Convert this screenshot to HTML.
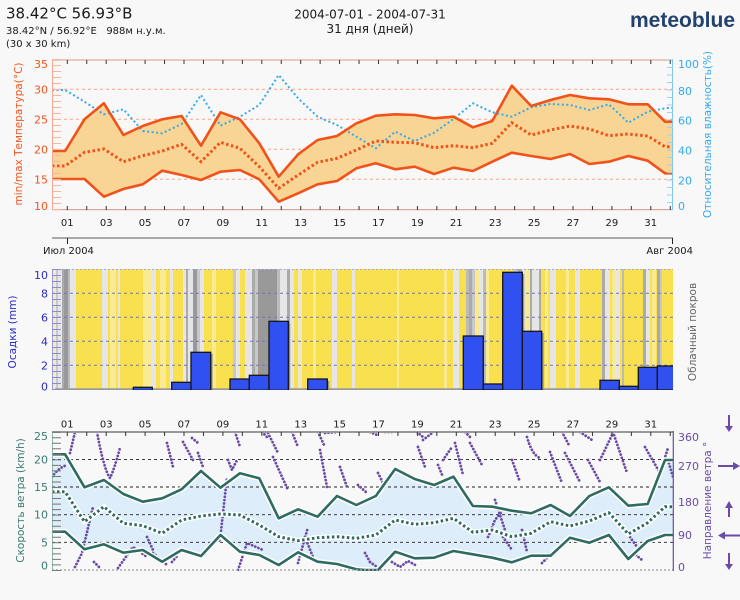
<!DOCTYPE html>
<html><head><meta charset="utf-8"><style>
html,body{margin:0;padding:0;background:#f8f8f8;}
svg{display:block;font-family:"DejaVu Sans","Liberation Sans",sans-serif;}
</style></head><body>
<svg width="740" height="600" viewBox="0 0 740 600" xmlns="http://www.w3.org/2000/svg">
<defs>
<clipPath id="cTop"><rect x="52" y="59" width="621" height="151"/></clipPath>
<clipPath id="cMid"><rect x="52" y="269" width="621" height="121"/></clipPath>
<clipPath id="cBot"><rect x="52" y="431" width="621" height="140"/></clipPath>
<clipPath id="cHum"><rect x="690" y="52" width="40" height="180"/></clipPath>
</defs>
<rect width="740" height="600" fill="#f8f8f8"/>

<!-- HEADER -->
<text x="6" y="18.5" font-size="15" fill="#1a1a1a">38.42°C 56.93°B</text>
<text x="6" y="34" font-size="10" fill="#1a1a1a">38.42°N / 56.92°E&#160;&#160;&#160;988м н.у.м.</text>
<text x="6" y="47" font-size="10" fill="#1a1a1a">(30 x 30 km)</text>
<text x="370" y="18.5" font-size="12" fill="#1a1a1a" text-anchor="middle">2004-07-01 - 2004-07-31</text>
<text x="370" y="33" font-size="12" fill="#1a1a1a" text-anchor="middle">31 дня (дней)</text>
<text x="630" y="27" font-size="21" font-weight="bold" fill="#24426f" font-family="Liberation Sans, sans-serif">meteoblue</text>

<!-- TOP CHART -->
<g clip-path="url(#cTop)">
<g stroke="#f5a588" stroke-width="1" stroke-dasharray="3,3">
<line x1="52" y1="89.3" x2="673" y2="89.3"/>
<line x1="52" y1="119.3" x2="673" y2="119.3"/>
<line x1="52" y1="149.3" x2="673" y2="149.3"/>
<line x1="52" y1="179.3" x2="673" y2="179.3"/>
</g>
<polygon fill="#f8d595" points="52,151 65.1,151 84.5,119.3 103.9,103.3 123.4,135 142.8,126 162.2,119.3 181.6,116 201,145.7 220.5,112.3 239.9,119.3 259.3,143.3 278.7,176.7 298.1,154.3 317.6,140 337,136 356.4,123.3 375.8,115.7 395.2,114.3 414.7,115 434.1,118.3 453.5,116.7 472.9,127.3 492.3,121 511.8,85.7 531.2,106 550.6,100 570,95 589.4,98.3 608.9,99.3 628.3,104.3 647.7,104.3 665,121.7 673,121.7 673,173.3 665,173.3 647.7,160.7 628.3,156 608.9,161.7 589.4,164 570,154 550.6,159 531.2,156 511.8,152.7 492.3,161.7 472.9,171 453.5,167.7 434.1,174 414.7,166.7 395.2,169.3 375.8,163.3 356.4,168.3 337,181 317.6,184.3 298.1,193.3 278.7,201.7 259.3,179.3 239.9,170 220.5,171.7 201,180 181.6,175 162.2,170.7 142.8,184.3 123.4,189 103.9,196.7 84.5,179 65.1,179 52,179"/>
<polyline fill="none" stroke="#33a9ee" stroke-width="2" stroke-dasharray="2,2.5" points="52,90 65.1,90 84.5,101.7 103.9,114.3 123.4,109.3 142.8,131 162.2,133.3 181.6,124 201,95 220.5,125.7 239.9,116.7 259.3,105 278.7,75 298.1,98.3 317.6,116.7 337,125 356.4,136.7 375.8,148.3 395.2,131.7 414.7,141 434.1,132.7 453.5,119 472.9,103.3 492.3,112.3 511.8,116.7 531.2,107.3 550.6,104 570,105 589.4,110 608.9,104.3 628.3,122.7 647.7,111.7 665,108.3 673,107.7"/>
<polyline fill="none" stroke="#f0521a" stroke-width="2.6" stroke-linejoin="round" points="52,151 65.1,151 84.5,119.3 103.9,103.3 123.4,135 142.8,126 162.2,119.3 181.6,116 201,145.7 220.5,112.3 239.9,119.3 259.3,143.3 278.7,176.7 298.1,154.3 317.6,140 337,136 356.4,123.3 375.8,115.7 395.2,114.3 414.7,115 434.1,118.3 453.5,116.7 472.9,127.3 492.3,121 511.8,85.7 531.2,106 550.6,100 570,95 589.4,98.3 608.9,99.3 628.3,104.3 647.7,104.3 665,121.7 673,121.7"/>
<polyline fill="none" stroke="#f0521a" stroke-width="2.6" stroke-linejoin="round" points="52,179 65.1,179 84.5,179 103.9,196.7 123.4,189 142.8,184.3 162.2,170.7 181.6,175 201,180 220.5,171.7 239.9,170 259.3,179.3 278.7,201.7 298.1,193.3 317.6,184.3 337,181 356.4,168.3 375.8,163.3 395.2,169.3 414.7,166.7 434.1,174 453.5,167.7 472.9,171 492.3,161.7 511.8,152.7 531.2,156 550.6,159 570,154 589.4,164 608.9,161.7 628.3,156 647.7,160.7 665,173.3 673,173.3"/>
<polyline fill="none" stroke="#f0521a" stroke-width="3" stroke-dasharray="2.5,2.5" points="52,166 65.1,166 84.5,152.3 103.9,149 123.4,161.7 142.8,155.7 162.2,151 181.6,144.3 201,161.7 220.5,142.3 239.9,148.3 259.3,166.7 278.7,188.3 298.1,175 317.6,162.3 337,158.3 356.4,150 375.8,141 395.2,142.3 414.7,142.7 434.1,147.7 453.5,145.7 472.9,147.7 492.3,143.3 511.8,122.7 531.2,135 550.6,130 570,126 589.4,129 608.9,135.7 628.3,134 647.7,136 665,146.7 673,146.7"/>
</g>
<line x1="52" y1="60" x2="673" y2="60" stroke="#e3aa98" stroke-width="1.2"/>
<line x1="52" y1="209.6" x2="673" y2="209.6" stroke="#d9a898" stroke-width="1.2"/>
<line x1="52.5" y1="59" x2="52.5" y2="210" stroke="#f5a590" stroke-width="1"/>
<line x1="56.5" y1="59" x2="56.5" y2="210" stroke="#f8b6a0" stroke-width="9" stroke-dasharray="1,5"/>
<line x1="672.5" y1="59" x2="672.5" y2="210" stroke="#7cc6f0" stroke-width="1"/>
<line x1="670" y1="59.5" x2="670" y2="210" stroke="#9ad2f2" stroke-width="6" stroke-dasharray="1,6.5"/>
<line x1="66.8" y1="62" x2="673" y2="62" stroke="#333" stroke-width="4" stroke-dasharray="1,18.45"/>
<line x1="66.8" y1="208" x2="673" y2="208" stroke="#333" stroke-width="4" stroke-dasharray="1,18.45"/>
<g font-size="11" fill="#f0561e" text-anchor="end">
<text x="48" y="68">35</text><text x="48" y="93.3">30</text><text x="48" y="123.3">25</text><text x="48" y="153.3">20</text><text x="48" y="183.3">15</text><text x="48" y="210">10</text>
</g>
<g font-size="11" fill="#33a9ee">
<text x="678" y="68">100</text><text x="678" y="95">80</text><text x="678" y="124.7">60</text><text x="678" y="154.7">40</text><text x="678" y="184.7">20</text><text x="678" y="210">0</text>
</g>
<text transform="translate(22,134) rotate(-90)" font-size="10.5" fill="#f0561e" text-anchor="middle">min/max Температура(°C)</text>
<g clip-path="url(#cHum)"><text transform="translate(711,218) rotate(-90)" font-size="10.5" fill="#33a9ee">Относительная влажность(%)</text></g>
<g font-size="10" fill="#1a1a1a" text-anchor="middle">
<text x="67.3" y="226">01</text><text x="106.2" y="226">03</text><text x="145.1" y="226">05</text><text x="184" y="226">07</text><text x="222.9" y="226">09</text><text x="261.8" y="226">11</text><text x="300.7" y="226">13</text><text x="339.6" y="226">15</text><text x="378.5" y="226">17</text><text x="417.4" y="226">19</text><text x="456.3" y="226">21</text><text x="495.2" y="226">23</text><text x="534.1" y="226">25</text><text x="573" y="226">27</text><text x="611.9" y="226">29</text><text x="650.8" y="226">31</text>
</g>
<line x1="52" y1="238" x2="673" y2="238" stroke="#aaa" stroke-width="2"/>
<line x1="67.5" y1="238" x2="67.5" y2="244" stroke="#222" stroke-width="1"/>
<line x1="672.5" y1="238" x2="672.5" y2="244" stroke="#222" stroke-width="1"/>
<text x="43" y="254" font-size="10" fill="#1a1a1a">Июл 2004</text>
<text x="693" y="254" font-size="10" fill="#1a1a1a" text-anchor="end">Авг 2004</text>

<!-- MIDDLE CHART -->
<g clip-path="url(#cMid)">
<rect x="52" y="269" width="621" height="121" fill="#f9e04f"/>
<g>
<rect x="52" y="269" width="4" height="121" fill="#f2ecc0"/>
<rect x="56" y="269" width="2" height="121" fill="#c8c8c8"/>
<rect x="58" y="269" width="4" height="121" fill="#e6e6e6"/>
<rect x="62" y="269" width="2" height="121" fill="#aaa"/>
<rect x="64" y="269" width="4" height="121" fill="#999"/>
<rect x="68" y="269" width="2" height="121" fill="#bbb"/>
<rect x="70" y="269" width="6" height="121" fill="#e6e6e6"/>
<rect x="102" y="269" width="6" height="121" fill="#e6e6e6"/>
<rect x="110" y="269" width="6" height="121" fill="#faea92"/>
<rect x="118" y="269" width="2" height="121" fill="#e6e6e6"/>
<rect x="143" y="269" width="9" height="121" fill="#faea92"/>
<rect x="152" y="269" width="4" height="121" fill="#e6e6e6"/>
<rect x="160" y="269" width="6" height="121" fill="#faea92"/>
<rect x="170" y="269" width="3" height="121" fill="#e6e6e6"/>
<rect x="183" y="269" width="3" height="121" fill="#e6e6e6"/>
<rect x="186" y="269" width="2" height="121" fill="#aaa"/>
<rect x="188" y="269" width="5" height="121" fill="#e6e6e6"/>
<rect x="193" y="269" width="4" height="121" fill="#999"/>
<rect x="197" y="269" width="3" height="121" fill="#c8c8c8"/>
<rect x="200" y="269" width="4" height="121" fill="#e6e6e6"/>
<rect x="212" y="269" width="4" height="121" fill="#faea92"/>
<rect x="233" y="269" width="3" height="121" fill="#c8c8c8"/>
<rect x="236" y="269" width="4" height="121" fill="#e6e6e6"/>
<rect x="245" y="269" width="7" height="121" fill="#e6e6e6"/>
<rect x="252" y="269" width="3" height="121" fill="#aaa"/>
<rect x="255" y="269" width="3" height="121" fill="#c8c8c8"/>
<rect x="258" y="269" width="19" height="121" fill="#999"/>
<rect x="277" y="269" width="3" height="121" fill="#bbb"/>
<rect x="280" y="269" width="7" height="121" fill="#e6e6e6"/>
<rect x="287" y="269" width="3" height="121" fill="#aaa"/>
<rect x="290" y="269" width="4" height="121" fill="#e6e6e6"/>
<rect x="298" y="269" width="4" height="121" fill="#ece8d0"/>
<rect x="313" y="269" width="3" height="121" fill="#faea92"/>
<rect x="332" y="269" width="5" height="121" fill="#e6e6e6"/>
<rect x="352" y="269" width="3" height="121" fill="#e6e6e6"/>
<rect x="397" y="269" width="2" height="121" fill="#faea92"/>
<rect x="444" y="269" width="3" height="121" fill="#faea92"/>
<rect x="453" y="269" width="6" height="121" fill="#e6e6e6"/>
<rect x="466" y="269" width="3" height="121" fill="#bbb"/>
<rect x="469" y="269" width="3" height="121" fill="#aaa"/>
<rect x="472" y="269" width="3" height="121" fill="#c8c8c8"/>
<rect x="475" y="269" width="4" height="121" fill="#faea92"/>
<rect x="479" y="269" width="4" height="121" fill="#e6e6e6"/>
<rect x="483" y="269" width="3" height="121" fill="#bbb"/>
<rect x="486" y="269" width="3" height="121" fill="#faea92"/>
<rect x="514" y="269" width="4" height="121" fill="#c8c8c8"/>
<rect x="518" y="269" width="4" height="121" fill="#aaa"/>
<rect x="522" y="269" width="4" height="121" fill="#e6e6e6"/>
<rect x="526" y="269" width="4" height="121" fill="#faea92"/>
<rect x="530" y="269" width="2" height="121" fill="#aaa"/>
<rect x="532" y="269" width="7" height="121" fill="#e6e6e6"/>
<rect x="539" y="269" width="2" height="121" fill="#aaa"/>
<rect x="545" y="269" width="3" height="121" fill="#faea92"/>
<rect x="550" y="269" width="6" height="121" fill="#e6e6e6"/>
<rect x="566" y="269" width="3" height="121" fill="#faea92"/>
<rect x="575" y="269" width="5" height="121" fill="#e6e6e6"/>
<rect x="602" y="269" width="3" height="121" fill="#aaa"/>
<rect x="605" y="269" width="5" height="121" fill="#e6e6e6"/>
<rect x="612" y="269" width="3" height="121" fill="#faea92"/>
<rect x="615" y="269" width="5" height="121" fill="#e6e6e6"/>
<rect x="622" y="269" width="2" height="121" fill="#bbb"/>
<rect x="643" y="269" width="3" height="121" fill="#aaa"/>
<rect x="646" y="269" width="4" height="121" fill="#e6e6e6"/>
<rect x="652" y="269" width="4" height="121" fill="#faea92"/>
<rect x="657" y="269" width="3" height="121" fill="#aaa"/>
<rect x="660" y="269" width="2" height="121" fill="#c8c8c8"/>
</g>
<g stroke="#7474a8" stroke-width="1" stroke-dasharray="3,3">
<line x1="52" y1="293.3" x2="673" y2="293.3"/>
<line x1="52" y1="317.3" x2="673" y2="317.3"/>
<line x1="52" y1="341.3" x2="673" y2="341.3"/>
<line x1="52" y1="365.3" x2="673" y2="365.3"/>
</g>
<line x1="55" y1="389.3" x2="673" y2="389.3" stroke="#999" stroke-width="2"/>
<g fill="#888" opacity="0.8">
<rect x="210.7" y="354" width="2" height="36"/>
<rect x="288.3" y="323" width="2" height="67"/>
<rect x="327.3" y="381" width="2" height="9"/>
<rect x="541.7" y="333" width="2" height="57"/>
<rect x="522.3" y="274" width="2" height="58"/>
</g>
<g fill="#3051f0" stroke="#151515" stroke-width="1.3">
<rect x="133.3" y="387.3" width="19" height="3"/>
<rect x="171.7" y="382.3" width="19.3" height="8"/>
<rect x="191" y="352.3" width="19.7" height="38"/>
<rect x="230" y="379" width="19.3" height="11"/>
<rect x="249.3" y="375.3" width="19.7" height="15"/>
<rect x="269" y="321.3" width="19.3" height="69"/>
<rect x="307.7" y="379" width="19.6" height="11"/>
<rect x="463.3" y="336" width="20" height="54"/>
<rect x="483.3" y="384" width="19.4" height="6"/>
<rect x="502.7" y="272.3" width="19.6" height="118"/>
<rect x="522.3" y="331.3" width="19.4" height="59"/>
<rect x="600" y="380.3" width="19.3" height="10"/>
<rect x="619.3" y="386.3" width="19" height="4"/>
<rect x="638.3" y="367.3" width="19" height="23"/>
<rect x="657.3" y="366" width="17" height="24"/>
</g>
</g>
<line x1="52" y1="269.5" x2="673" y2="269.5" stroke="#a8a8e0" stroke-width="1" stroke-dasharray="2,2"/>
<line x1="52.5" y1="269" x2="52.5" y2="390" stroke="#9a9ae0" stroke-width="1"/>
<line x1="56.5" y1="269" x2="56.5" y2="390" stroke="#8a8ad8" stroke-width="9" stroke-dasharray="1,5"/>
<g font-size="11" fill="#2a2ac4" text-anchor="end">
<text x="48" y="279">10</text><text x="48" y="297.3">8</text><text x="48" y="321.3">6</text><text x="48" y="345.3">4</text><text x="48" y="369.3">2</text><text x="48" y="390.5">0</text>
</g>
<text transform="translate(16,332) rotate(-90)" font-size="10.5" fill="#2a2ac4" text-anchor="middle">Осадки (mm)</text>
<text transform="translate(696,332) rotate(-90)" font-size="10.5" fill="#666" text-anchor="middle">Облачный покров</text>

<!-- BOTTOM CHART -->
<g font-size="10" fill="#1a1a1a" text-anchor="middle">
<text x="67.3" y="427.5">01</text><text x="106.2" y="427.5">03</text><text x="145.1" y="427.5">05</text><text x="184" y="427.5">07</text><text x="222.9" y="427.5">09</text><text x="261.8" y="427.5">11</text><text x="300.7" y="427.5">13</text><text x="339.6" y="427.5">15</text><text x="378.5" y="427.5">17</text><text x="417.4" y="427.5">19</text><text x="456.3" y="427.5">21</text><text x="495.2" y="427.5">23</text><text x="534.1" y="427.5">25</text><text x="573" y="427.5">27</text><text x="611.9" y="427.5">29</text><text x="650.8" y="427.5">31</text>
</g>
<g clip-path="url(#cBot)">
<polygon fill="#ddedf9" points="52,454.3 65.1,454.3 84.5,487.3 103.9,480 123.4,494 142.8,501.7 162.2,498.3 181.6,489.3 201,471 220.5,487.7 239.9,473.3 259.3,478.3 278.7,518.3 298.1,509.3 317.6,516.7 337,496 356.4,505 375.8,496 395.2,469 414.7,479 434.1,485 453.5,476.7 472.9,506 492.3,506.7 511.8,510.7 531.2,513.3 550.6,505 570,516 589.4,496 608.9,487.3 628.3,505.7 647.7,504 665,460 673,460 673,535 665,535 647.7,541 628.3,559 608.9,535 589.4,542.7 570,537.7 550.6,555.7 531.2,555.7 511.8,562.3 492.3,557.7 472.9,554.3 453.5,551 434.1,557.7 414.7,558.3 395.2,551.7 378,570 365,570 356.4,569.3 337,564 317.6,561.7 298.1,552.3 278.7,565 259.3,555 239.9,551.7 220.5,535 201,556 181.6,550 162.2,561.7 142.8,550 123.4,552.7 103.9,544.3 84.5,549.3 65.1,531.7 52,531.7"/>
<g stroke="#222" stroke-width="0.9" stroke-dasharray="3,3">
<line x1="52" y1="459.4" x2="673" y2="459.4"/>
<line x1="52" y1="487" x2="673" y2="487"/>
<line x1="52" y1="514.7" x2="673" y2="514.7"/>
<line x1="52" y1="542.3" x2="673" y2="542.3"/>
</g>
<g fill="none" stroke="#6a4ba6" stroke-width="2.8" stroke-linecap="round" stroke-dasharray="0.01,3.4">
<path d="M52,477 Q58,468 67,465"/>
<path d="M70,453 L75,432"/>
<path d="M75,567 L82,553 L93,507"/>
<path d="M94,562 L100,568"/>
<path d="M97,432 Q104,470 110,478 Q114,470 120,448"/>
<path d="M118,568 L133,547 L147,557"/>
<path d="M147,537 L153,550"/>
<path d="M153,553 L167,565"/>
<path d="M167,443 L173,467"/>
<path d="M172,562 L178,555"/>
<path d="M183,442 L193,460"/>
<path d="M192,438 L198,443"/>
<path d="M198,453 L203,467"/>
<path d="M213,543 L220,540 L227,477"/>
<path d="M228,460 L232,470 L237,460"/>
<path d="M235,432 L240,447"/>
<path d="M238,570 L247,543 L263,550"/>
<path d="M262,432 L267,437"/>
<path d="M268,433 L278,453"/>
<path d="M273,457 L288,490"/>
<path d="M292,432 L298,447"/>
<path d="M298,563 L308,527"/>
<path d="M305,537 L313,557"/>
<path d="M318,432 L325,447"/>
<path d="M320,450 L327,487"/>
<path d="M325,433 L338,432"/>
<path d="M340,467 L347,487"/>
<path d="M358,485 L367,493"/>
<path d="M365,553 L370,562"/>
<path d="M370,432 L377,435"/>
<path d="M378,473 L385,487"/>
<path d="M385,432 L392,432"/>
<path d="M370,562 L377,567"/>
<path d="M392,562 L400,567 L408,561 L417,566"/>
<path d="M417,432 L423,437"/>
<path d="M418,447 L425,467"/>
<path d="M423,440 L432,433"/>
<path d="M438,465 L443,477"/>
<path d="M443,460 L452,447"/>
<path d="M455,443 L463,475"/>
<path d="M465,432 L470,437"/>
<path d="M470,443 L482,465"/>
<path d="M488,537 L495,520 L503,510"/>
<path d="M495,500 L505,530"/>
<path d="M503,537 L512,550"/>
<path d="M512,460 L520,482"/>
<path d="M522,530 L527,552"/>
<path d="M527,437 Q532,455 540,458"/>
<path d="M542,563 L547,558"/>
<path d="M550,452 L562,483"/>
<path d="M562,432 L570,447"/>
<path d="M565,453 L580,482"/>
<path d="M580,432 L592,440"/>
<path d="M588,460 L600,482"/>
<path d="M600,460 L613,433"/>
<path d="M613,432 L627,473"/>
<path d="M630,537 L637,547"/>
<path d="M636,555 L642,560"/>
<path d="M645,447 L660,473 L668,448"/>
<path d="M668,460 L673,477"/>
</g>
<g fill="none" stroke="#fff" stroke-width="5.5" stroke-linejoin="round">
<polyline points="52,454.3 65.1,454.3 84.5,487.3 103.9,480 123.4,494 142.8,501.7 162.2,498.3 181.6,489.3 201,471 220.5,487.7 239.9,473.3 259.3,478.3 278.7,518.3 298.1,509.3 317.6,516.7 337,496 356.4,505 375.8,496 395.2,469 414.7,479 434.1,485 453.5,476.7 472.9,506 492.3,506.7 511.8,510.7 531.2,513.3 550.6,505 570,516 589.4,496 608.9,487.3 628.3,505.7 647.7,504 665,460 673,460"/>
<polyline points="52,531.7 65.1,531.7 84.5,549.3 103.9,544.3 123.4,552.7 142.8,550 162.2,561.7 181.6,550 201,556 220.5,535 239.9,551.7 259.3,555 278.7,565 298.1,552.3 317.6,561.7 337,564 356.4,569.3 365,570 378,570 395.2,551.7 414.7,558.3 434.1,557.7 453.5,551 472.9,554.3 492.3,557.7 511.8,562.3 531.2,555.7 550.6,555.7 570,537.7 589.4,542.7 608.9,535 628.3,559 647.7,541 665,535 673,535"/>
<polyline points="52,491.7 65.1,491.7 84.5,521.7 103.9,506.7 123.4,523.3 142.8,525.7 162.2,533.3 181.6,520 201,516 220.5,514 239.9,515 259.3,525 278.7,536.7 298.1,540.7 317.6,537.7 337,536.7 356.4,538.3 375.8,535 395.2,520 414.7,524.3 434.1,522.7 453.5,518.3 472.9,532.3 492.3,530 511.8,536.7 531.2,533.3 550.6,521.7 570,526 589.4,521 608.9,512.7 628.3,534 647.7,522.7 665,506.7 673,506.7"/>
</g>
<g fill="none" stroke="#2f6b61" stroke-width="2.6" stroke-linejoin="round">
<polyline points="52,454.3 65.1,454.3 84.5,487.3 103.9,480 123.4,494 142.8,501.7 162.2,498.3 181.6,489.3 201,471 220.5,487.7 239.9,473.3 259.3,478.3 278.7,518.3 298.1,509.3 317.6,516.7 337,496 356.4,505 375.8,496 395.2,469 414.7,479 434.1,485 453.5,476.7 472.9,506 492.3,506.7 511.8,510.7 531.2,513.3 550.6,505 570,516 589.4,496 608.9,487.3 628.3,505.7 647.7,504 665,460 673,460"/>
<polyline points="52,531.7 65.1,531.7 84.5,549.3 103.9,544.3 123.4,552.7 142.8,550 162.2,561.7 181.6,550 201,556 220.5,535 239.9,551.7 259.3,555 278.7,565 298.1,552.3 317.6,561.7 337,564 356.4,569.3 365,570 378,570 395.2,551.7 414.7,558.3 434.1,557.7 453.5,551 472.9,554.3 492.3,557.7 511.8,562.3 531.2,555.7 550.6,555.7 570,537.7 589.4,542.7 608.9,535 628.3,559 647.7,541 665,535 673,535"/>
<polyline stroke-width="3" stroke-dasharray="2.5,2.5" points="52,491.7 65.1,491.7 84.5,521.7 103.9,506.7 123.4,523.3 142.8,525.7 162.2,533.3 181.6,520 201,516 220.5,514 239.9,515 259.3,525 278.7,536.7 298.1,540.7 317.6,537.7 337,536.7 356.4,538.3 375.8,535 395.2,520 414.7,524.3 434.1,522.7 453.5,518.3 472.9,532.3 492.3,530 511.8,536.7 531.2,533.3 550.6,521.7 570,526 589.4,521 608.9,512.7 628.3,534 647.7,522.7 665,506.7 673,506.7"/>
</g>
</g>
<line x1="52" y1="432" x2="673" y2="432" stroke="#999" stroke-width="2"/>
<line x1="66.8" y1="434" x2="673" y2="434" stroke="#333" stroke-width="4" stroke-dasharray="1,18.45"/>
<line x1="52" y1="570" x2="673" y2="570" stroke="#aaa" stroke-width="1.5" stroke-dasharray="2,2"/>
<line x1="52.5" y1="431" x2="52.5" y2="571" stroke="#8fb8b2" stroke-width="1"/>
<line x1="56.5" y1="431.7" x2="56.5" y2="571" stroke="#777" stroke-width="9" stroke-dasharray="1,4.53"/>
<line x1="673.3" y1="431" x2="673.3" y2="571" stroke="#6a4ba6" stroke-width="1.2"/>
<g font-size="11" fill="#3a7a70" text-anchor="end">
<text x="48" y="440">25</text><text x="48" y="463.4">20</text><text x="48" y="491">15</text><text x="48" y="518.7">10</text><text x="48" y="546.3">5</text><text x="48" y="569.7">0</text>
</g>
<g font-size="11" fill="#6a4ba6">
<text x="678" y="441">360</text><text x="678" y="470">270</text><text x="678" y="506">180</text><text x="678" y="539">90</text><text x="678" y="571">0</text>
</g>
<text transform="translate(24,500.5) rotate(-90)" font-size="10.5" fill="#3a7a70" text-anchor="middle">Скорость ветра (km/h)</text>
<text transform="translate(711,500.5) rotate(-90)" font-size="10.5" fill="#6a4ba6" text-anchor="middle">Направление ветра °</text>
<g stroke="#6a4ba6" stroke-width="2" fill="#6a4ba6">
<line x1="729" y1="415" x2="729" y2="428"/><polygon stroke="none" points="725,426 733,426 729,432"/>
<line x1="718" y1="466" x2="735" y2="466"/><polygon stroke="none" points="733,462 733,470 740,466"/>
<line x1="729" y1="506" x2="729" y2="517"/><polygon stroke="none" points="725,508 733,508 729,501"/>
<line x1="723" y1="535.5" x2="740" y2="535.5"/><polygon stroke="none" points="725,531.5 725,539.5 718,535.5"/>
<line x1="729" y1="553" x2="729" y2="566"/><polygon stroke="none" points="725,564 733,564 729,570"/>
</g>
</svg>
</body></html>
